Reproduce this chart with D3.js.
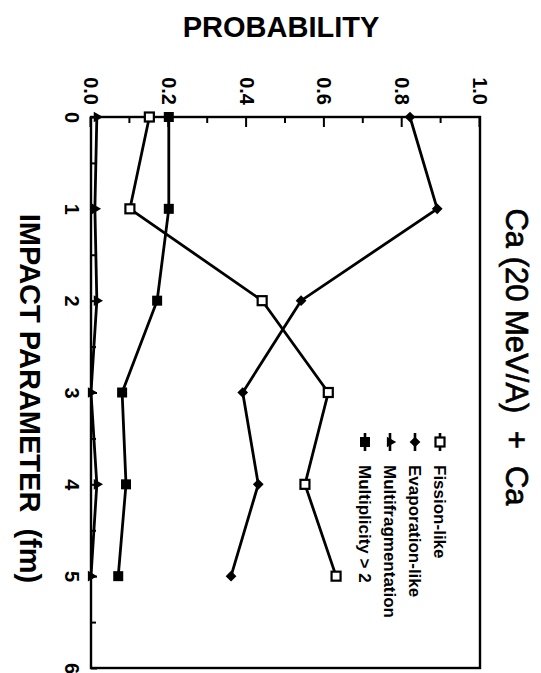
<!DOCTYPE html>
<html>
<head>
<meta charset="utf-8">
<script src="https://cdn.jsdelivr.net/npm/d3@7"></script>
<style>
	body { margin: 0; background: #fff; }
	svg text { font-family: 'Liberation Sans', Arial, sans-serif; fill: #000; }
</style>
</head>
<body>
<div id="chart"></div>
<script>
// impact parameter (fm) and probabilities
const impact = [ 0, 1, 2, 3, 4, 5 ];
const fission = [ 0.15, 0.10, 0.44, 0.61, 0.55, 0.63 ];
const evaporation = [ 0.82, 0.89, 0.54, 0.39, 0.43, 0.36 ];
const multifrag = [ 0.015, 0.01, 0.015, 0.0, 0.015, 0.0 ];
const multiplicity = [ 0.20, 0.20, 0.17, 0.08, 0.09, 0.07 ];

const seriesNames = [ 'Fission-like', 'Evaporation-like', 'Multifragmentation', 'Multiplicity > 2' ];
const probTicks = [ 0, 0.2, 0.4, 0.6, 0.8, 1.0 ];
const probMinor = [ 0.1, 0.3, 0.5, 0.7, 0.9 ];
const impactTicks = [ 0, 1, 2, 3, 4, 5, 6 ];
const impactMinor = [ 0.5, 1.5, 2.5, 3.5, 4.5, 5.5 ];

const width = 541,
	height = 673;

// the figure is drawn on its side: build a normal chart, then rotate it 90deg clockwise
const plot = { left: 480, top: 117, w: 551, h: 389 };

const svg = d3.select('#chart').append('svg').attr('width', width).attr('height', height);

svg
	.append('text')
	.attr('x', 281)
	.attr('y', 37)
	.attr('text-anchor', 'middle')
	.attr('font-size', '29px')
	.attr('font-weight', 'bold')
	.text('PROBABILITY');

const g = svg.append('g').attr('transform', `translate(${plot.left},${plot.top}) rotate(90)`);

const x = d3.scaleLinear().domain([ 0, 6 ]).range([ 0, plot.w ]);
const y = d3.scaleLinear().domain([ 0, 1 ]).range([ plot.h, 0 ]);

// frame
g
	.append('rect')
	.attr('width', plot.w)
	.attr('height', plot.h)
	.attr('fill', 'none')
	.attr('stroke', '#000')
	.attr('stroke-width', 2.4);

// axes (ticks point inward)
const xMajor = d3.axisBottom(x).tickValues(impactTicks).tickFormat(d3.format('d')).tickSize(-6).tickSizeOuter(0).tickPadding(12);
const xMinor = d3.axisBottom(x).tickValues(impactMinor).tickFormat('').tickSize(-5).tickSizeOuter(0);
const yMajor = d3.axisLeft(y).tickValues(probTicks).tickFormat(d3.format('.1f')).tickSize(-10).tickSizeOuter(0).tickPadding(12);
const yMinor = d3.axisLeft(y).tickValues(probMinor).tickFormat('').tickSize(-6).tickSizeOuter(0);

g.append('g').attr('class', 'axis').attr('transform', `translate(0,${plot.h})`).call(xMajor);
g.append('g').attr('class', 'axis').attr('transform', `translate(0,${plot.h})`).call(xMinor);
g.append('g').attr('class', 'axis').call(yMajor);
g.append('g').attr('class', 'axis').call(yMinor);

g.selectAll('.axis .domain').remove();
g.selectAll('.axis line').attr('stroke', '#000').attr('stroke-width', 2);
g
	.selectAll('.axis text')
	.attr('font-size', '20px')
	.attr('font-weight', 'bold')
	.attr('font-family', "'Liberation Sans', Arial, sans-serif")
	.attr('fill', '#000');

// axis title and chart title
g
	.append('text')
	.attr('x', plot.w / 2 + 6)
	.attr('y', plot.h + 71)
	.attr('text-anchor', 'middle')
	.attr('font-size', '29px')
	.attr('font-weight', 'bold')
	.style('white-space', 'pre')
	.text('IMPACT PARAMETER  (fm)');

g
	.append('text')
	.attr('x', 240)
	.attr('y', -26)
	.attr('text-anchor', 'middle')
	.attr('font-size', '31px')
	.attr('stroke', '#000')
	.attr('stroke-width', 0.7)
	.style('white-space', 'pre')
	.text('Ca (20 MeV/A)  +  Ca');

// markers
function drawMarker(sel, kind) {
	if (kind === 0) {
		sel.append('rect').attr('x', -4.5).attr('y', -4.5).attr('width', 9).attr('height', 9)
			.attr('fill', '#fff').attr('stroke', '#000').attr('stroke-width', 2.2);
	} else if (kind === 1) {
		sel.append('rect').attr('x', -3.8).attr('y', -3.8).attr('width', 7.6).attr('height', 7.6)
			.attr('transform', 'rotate(45)').attr('fill', '#000');
	} else if (kind === 2) {
		sel.append('path').attr('d', d3.symbol(d3.symbolTriangle, 50)()).attr('fill', '#000');
	} else {
		sel.append('rect').attr('x', -5).attr('y', -5).attr('width', 10).attr('height', 10).attr('fill', '#000');
	}
}

const allSeries = [ fission, evaporation, multifrag, multiplicity ];
const line = d3.line().x((d, i) => x(impact[i])).y((d) => y(d));

allSeries.forEach(function(values, k) {
	g
		.append('path')
		.datum(values)
		.attr('fill', 'none')
		.attr('stroke', '#000')
		.attr('stroke-width', 2.8)
		.attr('d', line);
});

allSeries.forEach(function(values, k) {
	g
		.selectAll('.m' + k)
		.data(values)
		.enter()
		.append('g')
		.attr('class', 'm' + k)
		.attr('transform', (d, i) => `translate(${x(impact[i])},${y(d)})`)
		.each(function() {
			drawMarker(d3.select(this), k);
		});
});

// legend
const legend = g.append('g').attr('transform', 'translate(316,40)');
seriesNames.forEach(function(name, k) {
	const row = legend.append('g').attr('transform', `translate(0,${k * 25})`);
	row.append('line').attr('x1', 0).attr('x2', 18).attr('stroke', '#000').attr('stroke-width', 2.6);
	drawMarker(row.append('g').attr('transform', 'translate(9,0)'), k);
	row
		.append('text')
		.attr('x', 32)
		.attr('dy', '0.36em')
		.attr('font-size', '17px')
		.attr('font-weight', 'bold')
		.text(name);
});
</script>
</body>
</html>
